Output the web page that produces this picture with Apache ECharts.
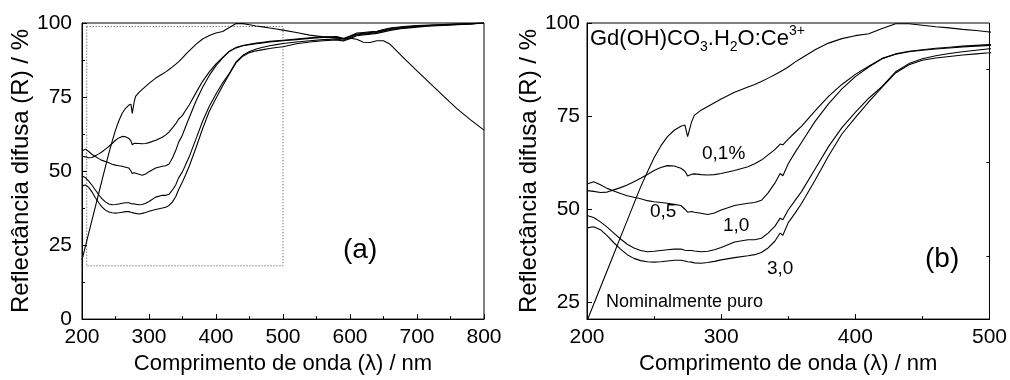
<!DOCTYPE html>
<html>
<head>
<meta charset="utf-8">
<script src="https://cdn.jsdelivr.net/npm/echarts@6/dist/echarts.min.js"></script>
<style>
html,body{margin:0;padding:0;background:#fff;}
#c{width:1010px;height:380px;}
</style>
</head>
<body>
<div id="c"></div>
<script>
// wavelength (nm)
var wl = [200,205,210,215,220,225,230,235,240,245,250,255,260,265,270,273,275,278,280,285,290,295,300,310,320,325,330,335,340,344,346,350,355,360,370,380,390,400,410,420,430,440,450,460,470,480,490,500,
          520,540,560,580,590,600,610,620,630,640,650,660,680,700,720,740,760,780,800];
// Reflectance (%) per sample
var nominal = [20,24.5,29,33.5,38,42.5,47,51.5,56,60,63.8,67,69.5,71.2,72.3,72.6,69.5,73.5,75.2,76.6,77.6,78.6,79.6,81.4,82.8,83.5,84.3,85.2,86.1,86.9,87.3,88.2,89.5,90.6,92.8,94.6,95.8,96.6,97.1,98.5,99.8,99.8,99.4,99.0,98.7,98.3,98.0,97.6,
               96.8,95.9,95.3,94.9,94.6,94.9,94.5,93.5,93.4,94.0,94.0,92.8,88.2,83.8,79.5,75.2,71.0,67.3,63.8];
var ce01 = [55.0,54.8,54.5,54.6,55.2,55.8,56.5,57.4,58.3,59.3,60.4,61.2,61.7,61.6,61.0,60.2,58.9,59.4,59.5,59.3,59.2,59.3,59.6,60.4,61.4,62.2,63.2,64.6,66.0,67.5,67.3,68.8,70.6,72.3,76.4,80.3,83.5,86.2,88.4,90.5,91.7,92.4,92.8,93.2,93.5,93.8,94.0,94.2,
            94.6,95.0,95.3,95.4,94.8,95.6,96.6,96.8,97.0,97.2,97.8,98.3,98.8,99.1,99.3,99.5,99.7,99.8,100];
var ce05 = [56.8,57.4,56.6,55.6,54.9,54.2,53.6,53.2,52.8,52.3,52.0,51.8,51.6,51.3,51.0,50.0,49.2,49.4,49.2,48.9,48.6,49.0,49.8,51.0,51.6,51.8,52.4,54.4,57.0,59.6,59.0,62.2,65.2,68.0,73.6,78.3,82.3,85.6,88.2,90.4,91.6,92.3,92.7,93.0,93.3,93.6,93.8,94.0,
            94.4,94.8,95.1,95.2,94.6,95.4,96.3,96.5,96.8,97.0,97.6,98.1,98.6,99.0,99.2,99.4,99.6,99.8,100];
var ce10 = [48.3,47.8,46.6,45.2,43.6,42.0,40.6,39.6,38.9,38.6,38.7,38.9,39.1,39.3,39.3,39.0,38.9,38.9,38.8,38.6,38.7,39.1,39.7,41.2,41.8,41.8,42.2,43.6,45.4,47.6,47.2,49.8,52.3,54.8,60.8,66.8,71.9,76.0,79.8,83.0,86.9,89.1,90.4,91.2,91.8,92.3,92.7,93.1,
            93.6,94.0,94.4,94.6,94.2,95.0,96.0,96.3,96.5,96.8,97.3,97.8,98.4,98.8,99.1,99.3,99.5,99.7,100];
var ce30 = [45.0,45.3,44.5,42.9,41.0,39.3,37.8,36.8,36.2,35.9,35.8,35.9,36.1,36.3,36.3,36.1,35.9,35.8,35.6,35.5,35.7,36.0,36.4,37.0,37.5,37.8,38.4,39.6,41.4,43.6,43.0,46.4,48.9,51.6,57.8,64.3,70.2,74.6,78.8,82.8,86.6,88.8,90.0,90.6,91.0,91.4,91.7,92.0,
            93.0,93.6,94.0,94.3,93.9,94.7,95.7,96.0,96.2,96.5,97.0,97.5,98.2,98.6,99.0,99.2,99.4,99.7,100];
// tick labels
var leftXTicks = [200,300,400,500,600,700,800];
var leftYTicks = [0,25,50,75,100];
var rightXTicks = [200,300,400,500];
var rightYTicks = [25,50,75,100];
var rightYMinor = [37.5,62.5,87.5];
// zoom box drawn in panel (a): [wavelength, reflectance] corners
var zoomBox = [[207,98.8],[500,18]];

var allSeries = [nominal, ce01, ce05, ce10, ce30];
function pairs(v){ return wl.map(function(x,i){ return [x, v[i]]; }); }

var FONT = 'Liberation Sans';
var black = '#000';

function xAxisDef(gi, mn, mx){
  return {
    type:'value', gridIndex:gi, min:mn, max:mx, interval:100,
    axisLine:{show:true, lineStyle:{color:black, width:1}},
    axisTick:{show:true, inside:true, length:5, lineStyle:{color:black}},
    minorTick:{show:true, splitNumber:2, length:3, lineStyle:{color:black}},
    splitLine:{show:false},
    axisLabel:{color:black, fontSize:21, fontFamily:FONT, margin:8},
    name:'Comprimento de onda (\u03bb) / nm', nameLocation:'middle', nameGap:31,
    nameTextStyle:{color:black, fontSize:22, fontFamily:FONT}
  };
}

var series = [];
allSeries.forEach(function(v){
  series.push({type:'line', xAxisIndex:0, yAxisIndex:0, data:pairs(v), symbol:'none',
    lineStyle:{color:black, width:1.1}, silent:true, animation:false});
  series.push({type:'line', xAxisIndex:1, yAxisIndex:1, data:pairs(v), symbol:'none',
    lineStyle:{color:black, width:1.1}, silent:true, animation:false});
});
// dotted zoom box
series.push({type:'line', xAxisIndex:0, yAxisIndex:0, data:[], silent:true, animation:false,
  markArea:{silent:true, itemStyle:{color:'rgba(0,0,0,0)', borderColor:'#444', borderWidth:1, borderType:[1,2]},
    data:[[{coord:zoomBox[0]},{coord:zoomBox[1]}]]}});

var chart = echarts.init(document.getElementById('c'), null, {renderer:'canvas'});
chart.setOption({
  animation:false,
  backgroundColor:'#fff',
  grid:[
    {left:82, top:23, width:402, height:300, show:true, borderColor:black, borderWidth:1, backgroundColor:'rgba(0,0,0,0)'},
    {left:587, top:23, width:403, height:300, show:true, borderColor:black, borderWidth:1, backgroundColor:'rgba(0,0,0,0)'}
  ],
  xAxis:[ xAxisDef(0,200,800), xAxisDef(1,200,500) ],
  yAxis:[
    {type:'value', gridIndex:0, min:0, max:100, interval:25,
     axisLine:{show:true, lineStyle:{color:black}},
     axisTick:{show:true, inside:true, length:5, lineStyle:{color:black}},
     minorTick:{show:true, splitNumber:2, length:3, lineStyle:{color:black}},
     splitLine:{show:false},
     axisLabel:{color:black, fontSize:21, fontFamily:FONT, margin:10, customValues:leftYTicks},
     name:'Reflect\u00e2ncia difusa (R) / %', nameLocation:'middle', nameGap:48,
     nameTextStyle:{color:black, fontSize:24, fontFamily:FONT}},
    {type:'value', gridIndex:1, min:20.5, max:100,
     axisLine:{show:true, lineStyle:{color:black}},
     axisTick:{show:true, inside:true, length:5, lineStyle:{color:black}, customValues:rightYTicks},
     splitLine:{show:false},
     axisLabel:{color:black, fontSize:21, fontFamily:FONT, margin:7, customValues:rightYTicks},
     name:'Reflect\u00e2ncia difusa (R) / %', nameLocation:'middle', nameGap:46,
     nameTextStyle:{color:black, fontSize:24, fontFamily:FONT}},
    {type:'value', gridIndex:1, min:20.5, max:100,
     axisLine:{show:false},
     axisTick:{show:true, inside:true, length:3, lineStyle:{color:black}, customValues:rightYMinor},
     splitLine:{show:false},
     axisLabel:{show:false}}
  ],
  series: series,
  graphic:[
    {type:'text', left:343, top:236, style:{text:'(a)', font:'28px "Liberation Sans"', fill:black}},
    {type:'text', left:925, top:245, style:{text:'(b)', font:'28px "Liberation Sans"', fill:black}},
    {type:'text', left:702, top:144, style:{text:'0,1%', font:'19px "Liberation Sans"', fill:black}},
    {type:'text', left:650, top:202, style:{text:'0,5', font:'19px "Liberation Sans"', fill:black}},
    {type:'text', left:723, top:216, style:{text:'1,0', font:'19px "Liberation Sans"', fill:black}},
    {type:'text', left:767, top:259, style:{text:'3,0', font:'19px "Liberation Sans"', fill:black}},
    {type:'text', left:606, top:293, style:{text:'Nominalmente puro', font:'18px "Liberation Sans"', fill:black}},
    {type:'text', left:590, top:24, style:{
      text:'{m|Gd(OH)CO}{s|3}{m|.H}{s|2}{m|O:Ce}{p|3+}',
      rich:{
        m:{fontSize:22, fontFamily:FONT, fill:black, lineHeight:30, verticalAlign:'middle'},
        s:{fontSize:14, fontFamily:FONT, fill:black, lineHeight:14, verticalAlign:'bottom'},
        p:{fontSize:14, fontFamily:FONT, fill:black, lineHeight:14, verticalAlign:'top'}
      }}}
  ]
});
</script>
</body>
</html>
